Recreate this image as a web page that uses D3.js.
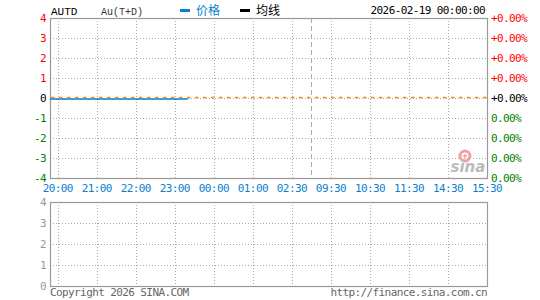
<!DOCTYPE html>
<html><head><meta charset="utf-8">
<script src="https://cdn.jsdelivr.net/npm/d3@7"></script>
<style>
html,body{margin:0;padding:0;background:#fff;}
svg{display:block;}
.mono{font-family:"DejaVu Sans Mono",monospace;font-size:11px;letter-spacing:-0.6px;}
</style></head>
<body><svg id="c" width="540" height="300"></svg>
<script>
// ---- data ----
const symbol = "AUTD";
const productName = "Au(T+D)";
const dateText = "2026-02-19 00:00:00";
const timeLabels = ["20:00","21:00","22:00","23:00","00:00","01:00","02:30","09:30","10:30","11:30","14:30","15:30"];
const sessionStart = "19:48";
const breakAfter = "02:30";          // night/day session split
const priceTimes = ["19:48","20:00","21:00","22:00","23:00","23:20"];
const priceValues = [0,0,0,0,0,0];
const prevClose = 0;
const priceTicks = [4,3,2,1,0,-1,-2,-3,-4];
const pctLabels = ["+0.00%","+0.00%","+0.00%","+0.00%","+0.00%","0.00%","0.00%","0.00%","0.00%"];
const volTicks = [4,3,2,1,0];
const legendItems = ["价格","均线"];
const copyright = "Copyright 2026 SINA.COM";
const siteUrl = "http://finance.sina.com.cn";

// ---- helpers ----
function mins(t){const [h,m]=t.split(":").map(Number);let v=h*60+m-20*60;if(v<-60)v+=1440;return v;}
const tickMins = timeLabels.map(mins);
function tIndex(t){
  const m = mins(t);
  if (m <= tickMins[0]) return (m - tickMins[0]) / (tickMins[1]-tickMins[0]);
  for (let i=0;i<tickMins.length-1;i++){
    if (m <= tickMins[i+1]) return i + (m-tickMins[i])/(tickMins[i+1]-tickMins[i]);
  }
  return tickMins.length-1;
}

const svg = d3.select("#c");
const L=50, R=487, T=18, B=178, T2=202, B2=286;
const x = d3.scaleLinear().domain([tIndex(sessionStart), timeLabels.length-1]).range([L,R]);
const y = d3.scaleLinear().domain([-4,4]).range([B,T]);
const yv = d3.scaleLinear().domain([0,4]).range([B2,T2]);
const grid = "#aaa";

function panelGrid(top,bottom,ys,withBreak){
  const g = svg.append("g");
  ys.forEach(v=>{
    g.append("line").attr("x1",L).attr("x2",R).attr("y1",v+0.5).attr("y2",v+0.5)
      .attr("stroke",grid).attr("stroke-dasharray","1,2");
  });
  timeLabels.forEach((t,i)=>{
    if(i===timeLabels.length-1) return;
    const xx = Math.round(x(i))+0.5;
    g.append("line").attr("x1",xx).attr("x2",xx).attr("y1",top).attr("y2",bottom)
      .attr("stroke",grid).attr("stroke-dasharray","1,2");
  });
  if(withBreak){
    const bi = timeLabels.indexOf(breakAfter)+0.5;
    const xx = Math.round(x(bi))+0.5;
    g.append("line").attr("x1",xx).attr("x2",xx).attr("y1",top).attr("y2",bottom)
      .attr("stroke",grid).attr("stroke-dasharray","5,3");
  }
  g.append("rect").attr("x",L+0.5).attr("y",top+0.5).attr("width",R-L).attr("height",bottom-top)
    .attr("fill","none").attr("stroke","#999").attr("stroke-width",1.2);
}

// main panel grid
panelGrid(T,B,priceTicks.filter(v=>v!==4&&v!==-4).map(v=>Math.round(y(v))),true);
// volume panel grid
panelGrid(T2,B2,volTicks.filter(v=>v!==4&&v!==0).map(v=>Math.round(yv(v))),false);

// watermark
const wx = x(10.5)+0.5;
const wm = svg.append("g");
wm.append("circle").attr("cx",wx-3).attr("cy",y(-2.9)).attr("r",5).attr("fill","none")
  .attr("stroke","#f2a0a0").attr("stroke-width",3);
wm.append("circle").attr("cx",wx-3).attr("cy",y(-2.9)).attr("r",1.8).attr("fill","#f2a0a0");
wm.append("text").attr("x",wx).attr("y",y(-3.68)).attr("text-anchor","middle")
  .attr("font-family","DejaVu Sans").attr("font-style","italic").attr("font-weight","bold")
  .attr("font-size",15).attr("fill","#bbb").text("sina");

// price line
const pts = priceTimes.map((t,i)=>[x(tIndex(t)), y(priceValues[i])]);
svg.append("path").attr("d",d3.line()(pts)).attr("fill","none")
  .attr("stroke","#0a7fce").attr("stroke-width",1.6).attr("transform","translate(0,1)");

// prev close line (orange dashed)
svg.append("line").attr("x1",L+1).attr("x2",R).attr("y1",y(prevClose)-0.5).attr("y2",y(prevClose)-0.5)
  .attr("stroke","#f08c1e").attr("stroke-width",1.6).attr("stroke-dasharray","3.5,4.5");

// left axis labels main
priceTicks.forEach(v=>{
  svg.append("text").attr("class","mono").attr("x",46).attr("y",y(v)).attr("dy","0.35em")
    .attr("text-anchor","end").attr("fill", v>0?"#f00":(v<0?"#008000":"#000")).text(v);
});
// right axis labels main
priceTicks.forEach((v,i)=>{
  svg.append("text").attr("class","mono").attr("x",491).attr("y",y(v)).attr("dy","0.35em")
    .attr("fill", v>0?"#f00":(v<0?"#008000":"#000")).text(pctLabels[i]);
});
// volume left labels
volTicks.forEach(v=>{
  svg.append("text").attr("class","mono").attr("x",46).attr("y",yv(v)).attr("dy","0.35em")
    .attr("text-anchor","end").attr("fill","#999").text(v);
});
// time labels
timeLabels.forEach((t,i)=>{
  svg.append("text").attr("class","mono").attr("x",x(i)).attr("y",192)
    .attr("text-anchor","middle").attr("fill","#0a7fce").text(t);
});

// header
svg.append("text").attr("x",51).attr("y",15).attr("font-family","Liberation Mono, monospace")
  .attr("font-size",11).attr("fill","#000").text(symbol);
svg.append("text").attr("x",101).attr("y",15).attr("font-family","Liberation Mono, monospace")
  .attr("font-size",10).attr("fill","#333").text(productName);
const legColors = ["#0a7fce","#000"];
const legX = [180,240];
legendItems.forEach((s,i)=>{
  svg.append("rect").attr("x",legX[i]).attr("y",9).attr("width",10).attr("height",3).attr("fill",legColors[i]);
  svg.append("text").attr("x",legX[i]+16).attr("y",15).attr("font-family","Noto Sans CJK SC")
    .attr("font-size",12).attr("fill",legColors[i]).text(s);
});
svg.append("text").attr("class","mono").attr("x",485).attr("y",14).attr("text-anchor","end")
  .attr("fill","#000").text(dateText);

// footer
svg.append("text").attr("class","mono").attr("x",50).attr("y",296).attr("fill","#666").text(copyright);
svg.append("text").attr("class","mono").attr("x",487).attr("y",296).attr("text-anchor","end").attr("fill","#666").text(siteUrl);
</script></body></html>
